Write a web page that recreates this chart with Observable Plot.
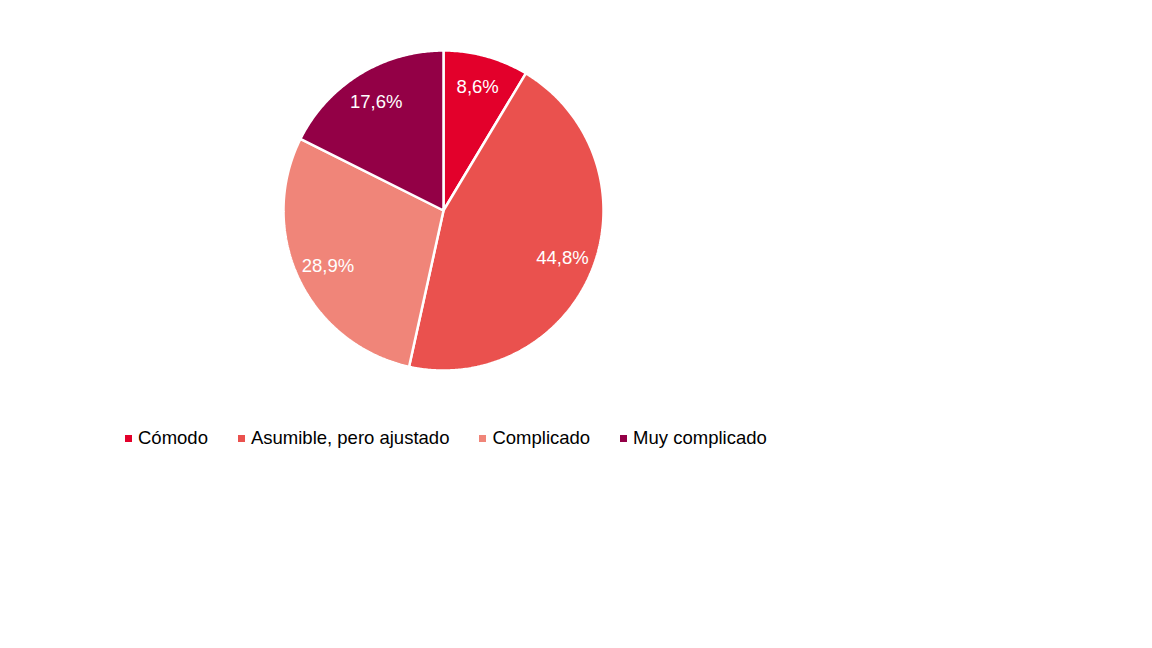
<!DOCTYPE html>
<html>
<head>
<meta charset="utf-8">
<script src="https://cdn.jsdelivr.net/npm/d3@7"></script>
<script src="https://cdn.jsdelivr.net/npm/@observablehq/plot@0.6"></script>
<style>
  html, body { margin: 0; padding: 0; background: #fff; width: 1152px; height: 648px; overflow: hidden; }
  body { font-family: "Liberation Sans", Arial, sans-serif; position: relative; }
  #chart { position: absolute; left: 0; top: 0; }
  #legend { position: absolute; left: 125px; top: 427px; display: flex; align-items: center; font-size: 18.5px; color: #000; }
  .item { display: flex; align-items: center; margin-right: 30px; white-space: nowrap; }
  .sw { width: 7px; height: 7px; margin-right: 6px; }
</style>
</head>
<body>
<div id="chart"></div>
<div id="legend"></div>
<script>
const categories = ["Cómodo", "Asumible, pero ajustado", "Complicado", "Muy complicado"];
const values = [8.6, 44.8, 28.9, 17.6];
const labels = ["8,6%", "44,8%", "28,9%", "17,6%"];
const colors = ["#e3002b", "#ea514e", "#f08579", "#930046"];

const total = d3.sum(values);
let acc = 0;
const slices = categories.map((c, i) => {
  const a0 = acc / total * 2 * Math.PI;
  acc += values[i];
  const a1 = acc / total * 2 * Math.PI;
  return {category: c, value: values[i], label: labels[i], a0, a1};
});

// wedge outlines derived from the data angles
const wedgePts = [];
for (const s of slices) {
  wedgePts.push({category: s.category, x: 0, y: 0});
  const n = Math.max(2, Math.ceil((s.a1 - s.a0) / 0.01));
  for (let k = 0; k <= n; k++) {
    const a = s.a0 + (s.a1 - s.a0) * k / n;
    wedgePts.push({category: s.category, x: Math.sin(a), y: Math.cos(a)});
  }
}
const labelPts = slices.map(s => {
  const m = (s.a0 + s.a1) / 2;
  return {category: s.category, label: s.label, x: 0.8 * Math.sin(m), y: 0.8 * Math.cos(m)};
});

const plot = Plot.plot({
  width: 1152,
  height: 420,
  margin: 0,
  x: {domain: [-1, 1], range: [283, 603], axis: null},
  y: {domain: [-1, 1], range: [370, 50], axis: null},
  color: {domain: categories, range: colors},
  marks: [
    Plot.line(wedgePts, {x: "x", y: "y", z: "category", fill: "category", stroke: "white", strokeWidth: 2.5, curve: "linear-closed", strokeLinejoin: "miter"}),
    Plot.text(labelPts, {x: "x", y: "y", text: "label", fill: "white", fontSize: 18.5, fontFamily: "'Liberation Sans', Arial, sans-serif"})
  ]
});
document.getElementById("chart").appendChild(plot);

const legend = document.getElementById("legend");
categories.forEach((c, i) => {
  const item = document.createElement("div");
  item.className = "item";
  const sw = document.createElement("div");
  sw.className = "sw";
  sw.style.background = colors[i];
  const t = document.createElement("span");
  t.textContent = c;
  item.appendChild(sw);
  item.appendChild(t);
  legend.appendChild(item);
});
</script>
</body>
</html>
